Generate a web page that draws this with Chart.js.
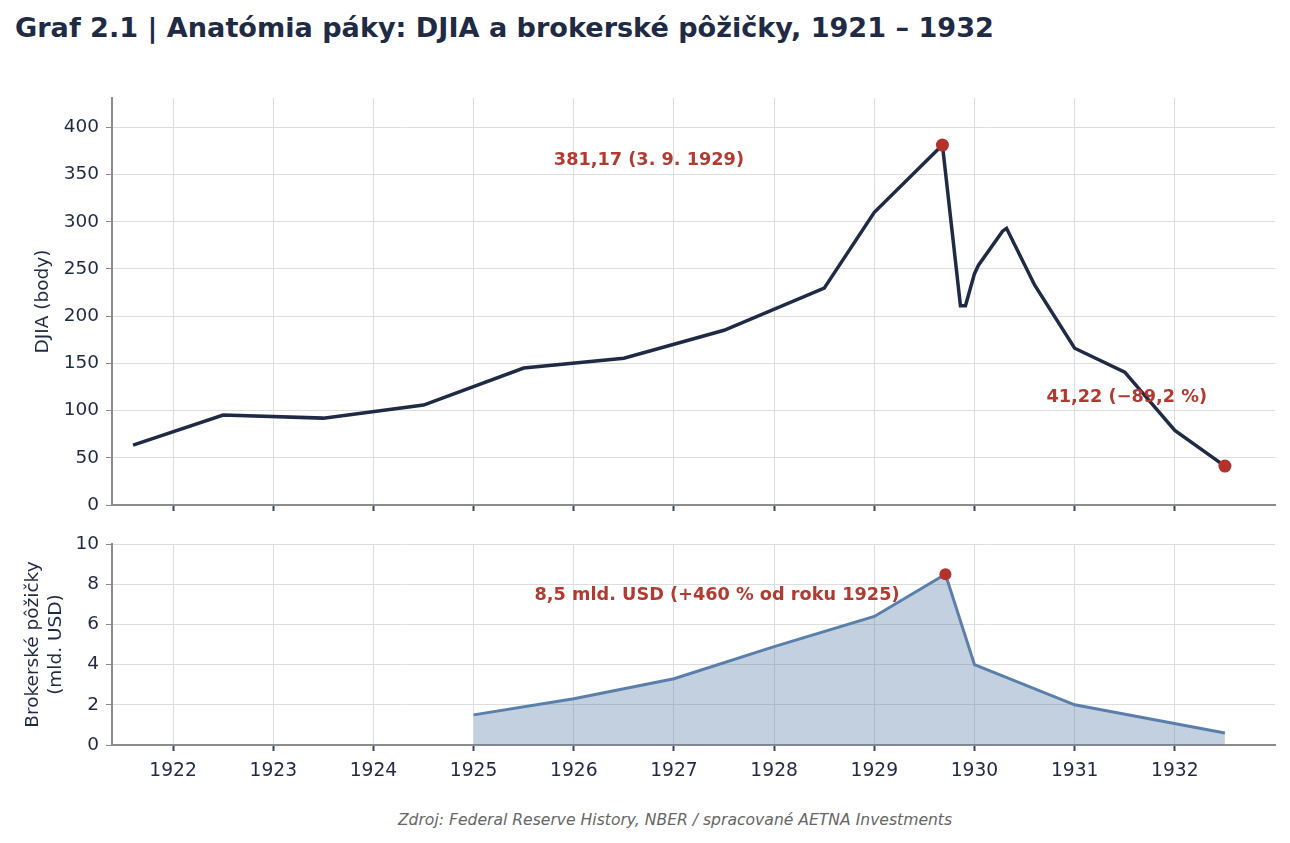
<!DOCTYPE html>
<html lang="sk">
<head>
<meta charset="utf-8">
<title>Graf 2.1</title>
<script src="https://cdn.jsdelivr.net/npm/chart.js@4.4.1/dist/chart.umd.min.js"></script>
<style>
  body { margin: 0; background: #fff; font-family: "DejaVu Sans", sans-serif; }
  #wrap { position: relative; width: 1290px; height: 843px; overflow: hidden; }
  h1 { position: absolute; left: 15px; top: 13px; margin: 0; font-size: 27.1px; line-height: 30px; font-weight: bold; color: #1f2a44; }
  #top { position: absolute; left: 0; top: 0; }
  #bottom { position: absolute; left: 0; top: 526px; }
  .src { position: absolute; top: 811px; left: 0; width: 1350px; text-align: center; font-style: italic; font-size: 15.6px; color: #666; }
</style>
</head>
<body>
<div id="wrap">
  <h1>Graf 2.1 | Anatómia páky: DJIA a brokerské pôžičky, 1921 – 1932</h1>
  <canvas id="top" width="1290" height="530"></canvas>
  <canvas id="bottom" width="1290" height="274"></canvas>
  <div class="src">Zdroj: Federal Reserve History, NBER / spracované AETNA Investments</div>
</div>
<script>
// DJIA (body)
const djiaYears  = [1921.6, 1922.5, 1923.5, 1924.5, 1925.5, 1926.5, 1927.5, 1928.5, 1929.0, 1929.68,
                    1929.86, 1929.91, 1930.0, 1930.04, 1930.28, 1930.32, 1930.6, 1931.0, 1931.5, 1932.0, 1932.5];
const djiaValues = [63.5, 95.2, 92, 105.8, 145, 155.5, 185, 229.6, 310, 381.17,
                    211, 211, 245, 254, 290, 293, 233, 166, 140.6, 79, 41.22];

// brokerske pozicky (mld. USD)
const loanYears  = [1925, 1926, 1927, 1928, 1929, 1929.71, 1930, 1931, 1932.5];
const loanValues = [1.5, 2.3, 3.3, 4.9, 6.4, 8.5, 4.0, 2.0, 0.6];

const yearTicks = [1922, 1923, 1924, 1925, 1926, 1927, 1928, 1929, 1930, 1931, 1932];
const djiaTicks = [0, 50, 100, 150, 200, 250, 300, 350, 400];
const loanTicks = [0, 2, 4, 6, 8, 10];

Chart.defaults.font.family = '"DejaVu Sans", sans-serif';
Chart.defaults.color = '#1f2a44';

const NAVY = '#1f2a44';
const RED = '#b3322c';
const GRID = '#dddddd';
const AXIS = '#8c8c8c';

const toXY = (xs, ys) => xs.map((x, i) => ({ x: x, y: ys[i] }));

// text notes placed in data coordinates
const notes = {
  id: 'notes',
  afterDatasetsDraw(chart, args, opts) {
    const { ctx, scales: { x, y } } = chart;
    ctx.save();
    ctx.font = 'bold 17.7px "DejaVu Sans"';
    ctx.fillStyle = '#b23a30';
    ctx.textAlign = 'center';
    ctx.textBaseline = 'middle';
    (opts.items || []).forEach(n => {
      ctx.fillText(n.text, x.getPixelForValue(n.x), y.getPixelForValue(n.y));
    });
    ctx.restore();
  }
};

function xScale(height, showLabels) {
  return {
    type: 'linear',
    min: 1921.39,
    max: 1933,
    afterBuildTicks: s => { s.ticks = yearTicks.map(v => ({ value: v })); },
    afterFit: s => { s.height = height; },
    grid: { color: GRID, tickLength: 6, tickColor: '#3a4562', tickWidth: 2 },
    border: { color: AXIS, width: 2 },
    ticks: { display: showLabels, color: NAVY, font: { size: 18.7 }, padding: 9, maxRotation: 0,
             callback: v => String(v) }
  };
}

function yScale(max, tickVals, title, titlePad) {
  return {
    min: 0,
    max: max,
    afterBuildTicks: s => { s.ticks = tickVals.map(v => ({ value: v })); },
    afterFit: s => { s.width = 112; },
    grid: { color: GRID, tickLength: 6, tickColor: AXIS },
    border: { color: AXIS, width: 2 },
    ticks: { color: NAVY, font: { size: 18.5 }, padding: 7 },
    title: { display: true, text: title, color: NAVY, font: { size: 18.5, lineHeight: 1.22 },
             padding: { top: titlePad, bottom: 0 } }
  };
}

const peakIdx = djiaValues.indexOf(Math.max(...djiaValues));
const lastIdx = djiaValues.length - 1;

new Chart(document.getElementById('top'), {
  type: 'line',
  data: {
    datasets: [
      {
        data: toXY(djiaYears, djiaValues),
        borderColor: NAVY,
        borderWidth: 3.5,
        pointRadius: 0,
        tension: 0,
        order: 1
      },
      {
        type: 'scatter',
        data: [
          { x: djiaYears[peakIdx], y: djiaValues[peakIdx] },
          { x: djiaYears[lastIdx], y: djiaValues[lastIdx] }
        ],
        backgroundColor: RED,
        borderWidth: 0,
        pointRadius: 6.5,
        order: 0
      }
    ]
  },
  options: {
    responsive: false,
    animation: false,
    layout: { padding: { top: 98, right: 15, left: 0, bottom: 0 } },
    plugins: {
      legend: { display: false },
      tooltip: { enabled: false },
      notes: {
        items: [
          { text: '381,17 (3. 9. 1929)', x: 1926.75, y: 365 },
          { text: '41,22 (\u221289,2 %)', x: 1931.52, y: 114 }
        ]
      }
    },
    scales: {
      x: xScale(25, false),
      y: yScale(431, djiaTicks, 'DJIA (body)', 32)
    }
  },
  plugins: [notes]
});

const loanPeak = loanValues.indexOf(Math.max(...loanValues));

new Chart(document.getElementById('bottom'), {
  type: 'line',
  data: {
    datasets: [
      {
        data: toXY(loanYears, loanValues),
        borderColor: '#5a7fab',
        backgroundColor: 'rgba(90,127,171,0.37)',
        borderWidth: 3,
        fill: 'origin',
        pointRadius: 0,
        tension: 0,
        order: 1
      },
      {
        type: 'scatter',
        data: [{ x: loanYears[loanPeak], y: loanValues[loanPeak] }],
        backgroundColor: RED,
        borderWidth: 0,
        pointRadius: 6,
        order: 0
      }
    ]
  },
  options: {
    responsive: false,
    animation: false,
    layout: { padding: { top: 9, right: 15, left: 0, bottom: 0 } },
    plugins: {
      legend: { display: false },
      tooltip: { enabled: false },
      notes: {
        items: [
          { text: '8,5 mld. USD (+460 % od roku 1925)', x: 1927.43, y: 7.47 }
        ]
      }
    },
    scales: {
      x: xScale(55, true),
      y: yScale(10, loanTicks, ['Brokerské pôžičky', '(mld. USD)'], 22)
    }
  },
  plugins: [notes]
});
</script>
</body>
</html>
